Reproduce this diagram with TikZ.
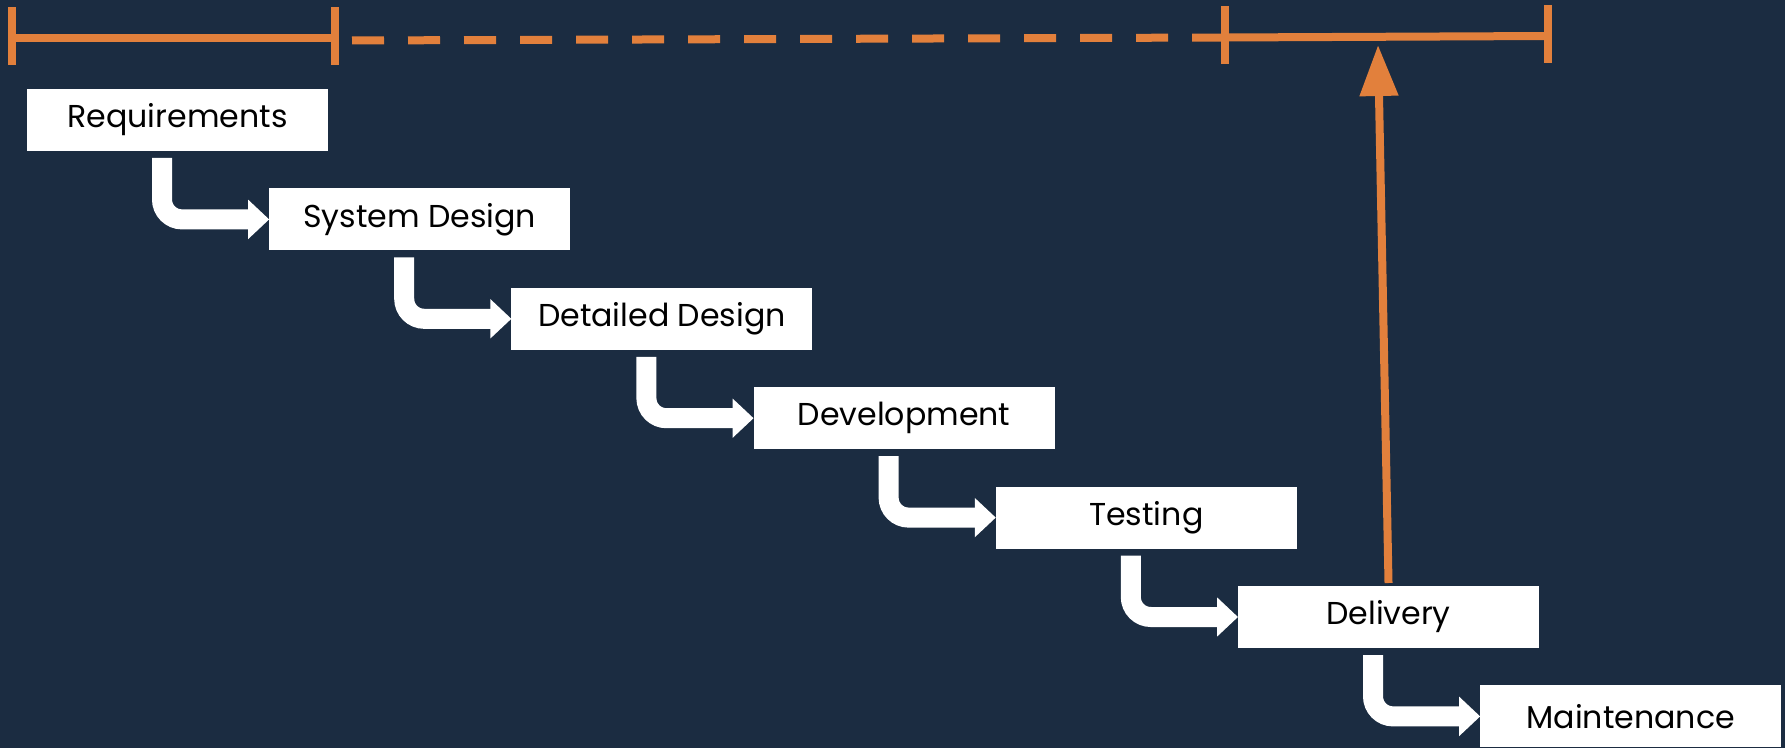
\documentclass[tikz,border=0pt]{standalone}
\usepackage{fontspec}
\setmainfont{Poppins}
\usepackage{xcolor}
\usepackage{tikz}
\usetikzlibrary{calc, positioning, arrows.meta}
\definecolor{NavyBack}{HTML}{1B2C41}
\definecolor{OrangeMark}{HTML}{E2803C}

\begin{document}
\begin{tikzpicture}[
  node distance=0.374cm and -0.588cm,
  phase/.style={rectangle, fill=white, minimum width=3.01cm, minimum height=0.62cm, inner sep=0pt, outer sep=0pt, align=center, font=\fontsize{9}{11}\selectfont\color{black}},
  flow/.style={-{Triangle[width=0.38cm, length=0.21cm]}, line width=0.2cm, white, rounded corners=0.2cm},
  span/.style={line width=0.08cm, OrangeMark},
  tick/.style={line width=0.08cm, OrangeMark}
]
  % background
  \fill[NavyBack] (0,0) rectangle (17.85,-7.48);
  \useasboundingbox (0,0) rectangle (17.85,-7.48);

  % timeline on top
  \coordinate (t1) at (0.12,-0.385);
  \coordinate (t2) at (3.35,-0.385);
  \coordinate (t3) at (12.25,-0.375);
  \coordinate (t4) at (15.48,-0.36);
  \draw[span] (t1) -- (t2);
  \draw[span, dash pattern=on 0.32cm off 0.24cm] ($(t2)+(0.17,-0.02)$) -- (t3);
  \draw[span] (t3) -- (t4);
  \foreach \t in {t1, t2, t3, t4}
    \draw[tick] ($(\t)+(0,0.31)$) -- ($(\t)+(0,-0.27)$);

  % phases
  \node[phase] (req) at (1.775,-1.20) {Requirements};
  \node[phase, below right=of req] (sysdes) {System Design};
  \node[phase, below right=of sysdes] (detdes) {Detailed Design};
  \node[phase, below right=of detdes] (dev) {Development};
  \node[phase, below right=of dev] (test) {Testing};
  \node[phase, below right=of test] (deliv) {Delivery};
  \node[phase, below right=of deliv] (maint) {Maintenance};

  \draw[flow] ($(req.south)+(-0.155,-0.07)$) |- (sysdes.west);
  \draw[flow] ($(sysdes.south)+(-0.155,-0.07)$) |- (detdes.west);
  \draw[flow] ($(detdes.south)+(-0.155,-0.07)$) |- (dev.west);
  \draw[flow] ($(dev.south)+(-0.155,-0.07)$) |- (test.west);
  \draw[flow] ($(test.south)+(-0.155,-0.07)$) |- (deliv.west);
  \draw[flow] ($(deliv.south)+(-0.155,-0.07)$) |- (maint.west);

  % release arrow
  \coordinate (release) at (13.78,-0.45);
  \draw[-{Triangle[width=0.37cm, length=0.51cm]}, line width=0.08cm, OrangeMark] ($(deliv.north)+(0,0.03)$) -- (release);
\end{tikzpicture}
\end{document}
